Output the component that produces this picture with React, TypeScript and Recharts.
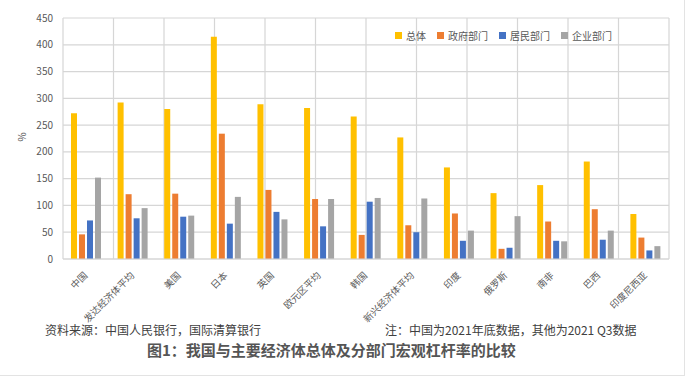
import React from "react"
import { BarChart, Bar, XAxis, YAxis, CartesianGrid } from "recharts"

const categories = [
  "中国",
  "发达经济体平均",
  "美国",
  "日本",
  "英国",
  "欧元区平均",
  "韩国",
  "新兴经济体平均",
  "印度",
  "俄罗斯",
  "南非",
  "巴西",
  "印度尼西亚",
]
const total = [272, 292, 280, 415, 289, 282, 266, 227, 171, 123, 138, 182, 84]
const government = [46, 121, 122, 234, 129, 112, 45, 63, 85, 19, 70, 93, 40]
const household = [72, 76, 79, 66, 88, 61, 107, 50, 34, 21, 34, 36, 16]
const corporate = [152, 95, 81, 116, 74, 112, 114, 113, 53, 80, 33, 53, 24]
const yTicks = [0, 50, 100, 150, 200, 250, 300, 350, 400, 450]

const series = [
  { key: "total", name: "总体", color: "#FFC000" },
  { key: "government", name: "政府部门", color: "#ED7D31" },
  { key: "household", name: "居民部门", color: "#4472C4" },
  { key: "corporate", name: "企业部门", color: "#A5A5A5" },
]

const data = categories.map((name, i) => ({
  name,
  total: total[i],
  government: government[i],
  household: household[i],
  corporate: corporate[i],
}))

// category boundaries 0..n on a hidden numeric axis, used for the Excel-style vertical grid
const gridTicks = categories.map((_, i) => i).concat(categories.length)

const font = '"Noto Sans CJK SC", "Noto Sans", sans-serif'

const AngledTick = ({ x, y, payload }: any) => (
  <text
    x={x + 2}
    y={y + 15}
    transform={`rotate(-45, ${x + 2}, ${y + 15})`}
    textAnchor="end"
    fontSize={9.5}
    fill="#595959"
    fontFamily={font}
  >
    {payload.value}
  </text>
)

export default function App() {
  return (
    <div
      style={{
        position: "absolute",
        top: 0,
        left: 0,
        width: 685,
        height: 376,
        background: "#fff",
        fontFamily: font,
        boxSizing: "border-box",
        borderBottom: "1px solid #e3e3e3",
        borderRight: "1px solid #e3e3e3",
      }}
    >
      <BarChart
        width={685}
        height={335}
        data={data}
        margin={{ top: 18, right: 16, left: 23, bottom: 0 }}
        barSize={6}
        barGap={2}
      >
        <CartesianGrid stroke="#d6d6d6" strokeWidth={1.2} xAxisId="grid" />
        <XAxis
          dataKey="name"
          interval={0}
          height={76}
          tickLine={false}
          tickSize={0}
          axisLine={{ stroke: "#d6d6d6" }}
          tick={<AngledTick />}
        />
        <XAxis
          xAxisId="grid"
          type="number"
          domain={[0, categories.length]}
          ticks={gridTicks}
          interval={0}
          hide
        />
        <YAxis
          width={40}
          domain={[0, 450]}
          ticks={yTicks}
          tickLine={false}
          tickSize={0}
          tickMargin={10}
          axisLine={false}
          tick={{ fontSize: 10, fill: "#595959", fontFamily: font }}
          label={{
            value: "%",
            angle: -90,
            position: "insideLeft",
            offset: -1,
            dy: 3,
            fontSize: 10,
            fill: "#595959",
          }}
        />
        {series.map((s) => (
          <Bar key={s.key} dataKey={s.key} name={s.name} fill={s.color} isAnimationActive={false} />
        ))}
      </BarChart>
      <div
        style={{
          position: "absolute",
          left: 395,
          top: 28,
          display: "flex",
          fontSize: 10,
          color: "#595959",
        }}
      >
        {series.map((s) => (
          <div key={s.key} style={{ display: "flex", alignItems: "center", marginRight: 11 }}>
            <span style={{ width: 7, height: 7, background: s.color, marginRight: 4 }} />
            {s.name}
          </div>
        ))}
      </div>
      <div style={{ position: "absolute", left: 45, top: 321, fontSize: 12, color: "#404040" }}>
        资料来源：中国人民银行，国际清算银行
      </div>
      <div style={{ position: "absolute", left: 385, top: 321, fontSize: 12, color: "#404040" }}>
        注：中国为2021年底数据，其他为2021 Q3数据
      </div>
      <div
        style={{
          position: "absolute",
          left: 147,
          top: 339,
          fontSize: 15,
          fontWeight: "bold",
          color: "#555555",
        }}
      >
        图1：我国与主要经济体总体及分部门宏观杠杆率的比较
      </div>
    </div>
  )
}
